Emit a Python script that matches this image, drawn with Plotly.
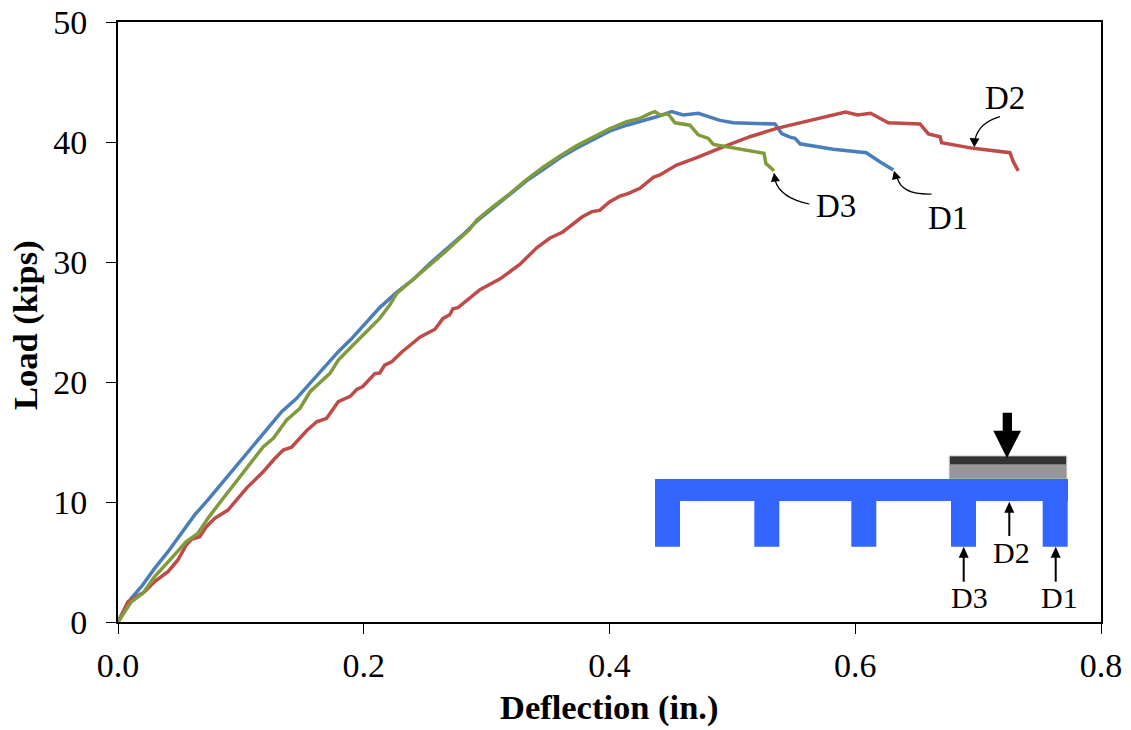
import plotly.graph_objects as go

d1_x = [0,.0108,.019,.0298,.0407,.0515,.0624,.0732,.088,.102,.1183,.1332,.145,.1563,.1644,.1793,.19,.2,.213,.227,.241,.254,.268,.281,.292,.305,.319,.333,.346,.36,.3735,.3866,.4,.414,.4248,.4384,.4506,.46,.4723,.4899,.5008,.5347,.5401,.5469,.551,.555,.582,.609,.62,.631]
d1_y = [0,1.97,2.94,4.47,5.86,7.39,8.92,10.17,12.0,13.64,15.72,17.53,18.6,19.89,20.86,22.53,23.6,24.7,26.2,27.5,28.6,29.9,31.1,32.3,33.4,34.5,35.6,36.8,37.7,38.7,39.5,40.2,40.9,41.4,41.7,42.1,42.53,42.25,42.39,41.8,41.6,41.5,40.7,40.4,40.3,39.85,39.4,39.1,38.36,37.67]

d2_x = [0,.0081,.0217,.0298,.0407,.0488,.0556,.0597,.0665,.0719,.0787,.0895,.105,.118,.1278,.1345,.1413,.1535,.1617,.1698,.1793,.189,.1945,.199,.209,.213,.217,.223,.231,.246,.258,.2645,.27,.2726,.2767,.2946,.311,.327,.341,.3516,.362,.37,.3776,.3857,.392,.4,.4085,.415,.4248,.4357,.441,.4546,.471,.4926,.5143,.5361,.5469,.566,.592,.602,.6125,.6269,.6527,.6595,.669,.6703,.696,.7259,.7286,.7327]
d2_y = [0,1.69,2.53,3.36,4.19,5.17,6.42,6.89,7.11,7.94,8.64,9.33,11.2,12.5,13.64,14.33,14.56,15.94,16.69,16.97,18.36,18.8,19.4,19.6,20.7,20.75,21.4,21.7,22.5,23.75,24.4,25.3,25.6,26.1,26.2,27.7,28.6,29.8,31.2,32,32.5,33.1,33.75,34.2,34.3,35,35.5,35.7,36.14,37.06,37.25,38.08,38.7,39.6,40.44,41.14,41.4,41.85,42.5,42.25,42.4,41.6,41.5,40.67,40.44,39.94,39.47,39.11,38.36,37.6]

d3_x = [0,.0108,.0203,.0298,.0434,.0556,.0651,.0732,.0814,.0938,.1101,.1183,.1264,.1373,.1481,.1563,.1725,.1793,.193,.213,.221,.227,.251,.268,.286,.292,.305,.319,.333,.346,.36,.3735,.3866,.4,.414,.4248,.433,.437,.441,.4478,.4533,.4655,.4722,.4804,.4845,.5035,.5257,.5273,.5339]
d3_y = [0,1.69,2.39,3.78,5.3,6.7,7.39,8.64,9.75,11.4,13.56,14.61,15.31,16.83,17.81,19.19,20.72,21.83,23.25,25.3,26.4,27.4,29.5,31,32.7,33.5,34.6,35.7,36.9,37.9,38.85,39.7,40.4,41.1,41.7,41.97,42.39,42.53,42.25,42.33,41.6,41.4,40.6,40.3,39.8,39.47,39.06,38.2,37.6]

x_ticks = [0, .2, .4, .6, .8]
y_ticks = [0, 10, 20, 30, 40, 50]
FONT = "Liberation Serif"

W, H = 1131, 730
L, R, T, B = 118, 1101, 22, 622
def X(p): return (p - L) / (R - L)
def Y(p): return (B - p) / (B - T)

def rect(x0, y0, x1, y1, fill, line=None):
    return dict(type="rect", xref="paper", yref="paper", x0=X(x0), x1=X(x1), y0=Y(y0), y1=Y(y1),
                fillcolor=fill, line=dict(color=line or fill, width=1 if line else 0), layer="above")

def poly(points, fill="black"):
    d = "M" + " L".join(f"{X(a):.5f},{Y(b):.5f}" for a, b in points) + " Z"
    return dict(type="path", xref="paper", yref="paper", path=d, fillcolor=fill, line=dict(width=0), layer="above")

def curve(a, c, b):
    d = f"M{X(a[0]):.5f},{Y(a[1]):.5f} Q{X(c[0]):.5f},{Y(c[1]):.5f} {X(b[0]):.5f},{Y(b[1]):.5f}"
    return dict(type="path", xref="paper", yref="paper", path=d, line=dict(color="black", width=1.2), layer="above")

def vline_arrow(x, top, bot):
    return [dict(type="line", xref="paper", yref="paper", x0=X(x), x1=X(x), y0=Y(top + 8), y1=Y(bot),
                 line=dict(color="black", width=2), layer="above"),
            poly([(x, top), (x - 5, top + 11), (x + 5, top + 11)])]

shapes = []
shapes.append(rect(949.3, 456, 1066.7, 479, "#969696", "#bdbdbd"))
shapes.append(rect(950, 456.5, 1066, 464.3, "#333333"))
shapes.append(rect(655, 479, 1068, 501, "#3366FF"))
for a in (655, 754.3, 851.3, 951, 1042.7):
    shapes.append(rect(a, 500, a + 25, 546.7, "#3366FF"))
shapes.append(poly([(1002.7, 412.7), (1012, 412.7), (1012, 430.7), (1021, 430.7), (1007, 458.3), (993.3, 430.7), (1002.7, 430.7)]))
shapes += vline_arrow(1009.3, 501.7, 536)
shapes += vline_arrow(963.7, 546.7, 581.7)
shapes += vline_arrow(1055.7, 546.7, 581.7)
shapes.append(curve((809.3, 204), (780, 198), (775, 180)))
shapes.append(poly([(774, 172.7), (771, 182), (780, 181)]))
shapes.append(curve((931.7, 194), (901.7, 195), (897.3, 178)))
shapes.append(poly([(894, 170.7), (892, 180), (901, 178)]))
shapes.append(curve((1000, 116.7), (978.3, 123), (975, 140)))
shapes.append(poly([(974.3, 147.3), (969.5, 138), (979.5, 138.5)]))

def label(text, x, y, size, **kw):
    return dict(text=text, xref="paper", yref="paper", x=X(x), y=Y(y), showarrow=False,
                xanchor="center", yanchor="middle", font=dict(family=FONT, size=size, color="black"), **kw)

annotations = [
    label("D3", 836, 206, 33), label("D1", 947.7, 218, 33), label("D2", 1005, 97.7, 33),
    label("D2", 1011.7, 552.7, 30), label("D3", 969.3, 597.3, 30), label("D1", 1059, 597.3, 30),
    label("<b>Deflection (in.)</b>", 609, 707, 34.5),
    label("<b>Load (kips)</b>", 25, 325, 34.5, textangle=-90),
]

fig = go.Figure()
for name, xs, ys, col in (("D1", d1_x, d1_y, "#4A7EBB"), ("D2", d2_x, d2_y, "#BE4B48"), ("D3", d3_x, d3_y, "#7F9B3C")):
    fig.add_trace(go.Scatter(x=xs, y=ys, mode="lines", name=name, line=dict(color=col, width=3.5), showlegend=False))

axis = dict(showline=True, linecolor="black", linewidth=2, mirror=True, showgrid=False, zeroline=False,
            automargin=False, ticks="outside", ticklen=10, tickwidth=1, tickcolor="black",
            ticklabeloverflow="allow",
            tickfont=dict(family=FONT, size=34, color="black"))
fig.update_layout(
    width=W, height=H, autosize=False, paper_bgcolor="white", plot_bgcolor="white",
    margin=dict(l=L, r=W - R, t=T, b=H - B),
    xaxis=dict(axis, range=[0, .8], tickvals=x_ticks, ticktext=[f"{v:.1f}" for v in x_ticks], ticklabelstandoff=2),
    yaxis=dict(axis, range=[0, 50], tickvals=y_ticks, ticklabelstandoff=12),
    shapes=shapes, annotations=annotations,
)
fig.write_html("out.html", config={"displayModeBar": False},
               post_script="document.body.style.margin='0';document.documentElement.style.overflow='hidden';")
